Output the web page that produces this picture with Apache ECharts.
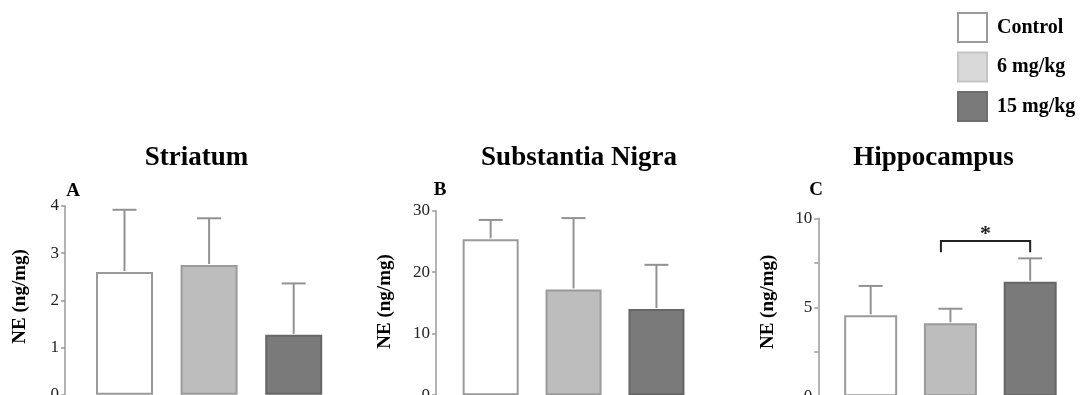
<!DOCTYPE html>
<html>
<head>
<meta charset="utf-8">
<script src="https://cdn.jsdelivr.net/npm/echarts@6/dist/echarts.min.js"></script>
<style>
html,body{margin:0;padding:0;background:#fff;}
#chart{width:1085px;height:395px;}
</style>
</head>
<body>
<div id="chart"></div>
<script>
// ---- data ----
const categories = ['Control', '6 mg/kg', '15 mg/kg'];
const panelTitles = ['Striatum', 'Substantia Nigra', 'Hippocampus'];
const panelLetters = ['A', 'B', 'C'];
const yAxisName = 'NE (ng/mg)';

const striatumMean = [2.60, 2.75, 1.27];
const striatumSD   = [1.32, 0.99, 1.09];
const nigraMean    = [25.35, 17.2, 14.0];
const nigraSD      = [3.15, 11.6, 7.2];
const hippoMean    = [4.55, 4.10, 6.44];
const hippoSD      = [1.65, 0.82, 1.31];

const yMax      = [4, 30, 10];
const yInterval = [1, 10, 2.5];
const yLabelEvery = [1, 10, 5];

// significance bracket in Hippocampus: between group 1 and 2
const sigPair = [1, 2];
const sigTop = 8.72;
const sigLegBottom = 8.09;
const sigMark = '*';

// ---- styles / layout ----
const FONT = '"Liberation Serif", "Times New Roman", serif';
const fills   = ['#ffffff', '#bdbdbd', '#7a7a7a'];
const borders = ['#9a9a9a', '#9a9a9a', '#666666'];
const legendFills   = ['#ffffff', '#d9d9d9', '#7a7a7a'];
const legendBorders = ['#9a9a9a', '#c4c4c4', '#6e6e6e'];

const grids = [
  {left: 82.2, top: 206, width: 253.8, height: 188.8},
  {left: 449.2, top: 210.7, width: 248.7, height: 184.5},
  {left: 830.8, top: 218.3, width: 239.25, height: 178}
];
const yOffsets = [17.2, 13.2, 12.5];
const nameGaps = [35, 41, 41];
const nameShift = [8, 3, 11];
const barWidths = [57, 56, 53];
const titlePos = [[196.5, 158], [579, 158], [933.5, 158]];
const letterPos = [[73, 191], [440, 190], [816, 190]];

const means = [striatumMean, nigraMean, hippoMean];
const sds = [striatumSD, nigraSD, hippoSD];

const chart = echarts.init(document.getElementById('chart'));

const series = [];
means.forEach((m, p) => {
  categories.forEach((c, g) => {
    series.push({
      name: c,
      type: 'bar',
      xAxisIndex: p,
      yAxisIndex: p,
      barWidth: barWidths[p],
      barGap: '-100%',
      data: m.map((v, i) => (i === g ? v : '-')),
      itemStyle: {color: fills[g], borderColor: borders[g], borderWidth: 2},
      emphasis: {disabled: true},
      silent: true,
      z: 2
    });
  });
  series.push({
    type: 'custom',
    xAxisIndex: p,
    yAxisIndex: p,
    silent: true,
    z: 3,
    encode: {x: 0, y: [1, 2]},
    data: m.map((v, i) => [i, v, v + sds[p][i]]),
    renderItem: function (params, api) {
      const x = api.value(0);
      const p0 = api.coord([x, api.value(1)]);
      const p1 = api.coord([x, api.value(2)]);
      const cap = 12;
      const st = {stroke: '#929292', lineWidth: 2};
      return {
        type: 'group',
        children: [
          {type: 'line', shape: {x1: p0[0], y1: p0[1] - 1, x2: p1[0], y2: p1[1]}, style: st},
          {type: 'line', shape: {x1: p1[0] - cap, y1: p1[1], x2: p1[0] + cap, y2: p1[1]}, style: st}
        ]
      };
    }
  });
});

// significance bracket
series.push({
  type: 'custom',
  xAxisIndex: 2,
  yAxisIndex: 2,
  silent: true,
  z: 4,
  encode: {x: [0, 1], y: [2, 3]},
  data: [[sigPair[0], sigPair[1], sigTop, sigLegBottom]],
  renderItem: function (params, api) {
    const inset = 9.5;
    const a = api.coord([api.value(0), api.value(2)]);
    const b = api.coord([api.value(1), api.value(2)]);
    const aB = api.coord([api.value(0), api.value(3)]);
    const x1 = a[0] - inset, x2 = b[0];
    return {
      type: 'group',
      children: [
        {type: 'polyline', shape: {points: [[x1, aB[1]], [x1, a[1]], [x2, a[1]], [x2, aB[1]]]},
         style: {stroke: '#222', lineWidth: 2, fill: null}},
        {type: 'text', style: {text: sigMark, x: (x1 + x2) / 2, y: a[1] - 6.5,
          font: 'bold 22px ' + FONT, fill: '#222', textAlign: 'center', textVerticalAlign: 'middle'}}
      ]
    };
  }
});

const graphics = [];
panelTitles.forEach((t, i) => {
  graphics.push({type: 'text', x: titlePos[i][0], y: titlePos[i][1], silent: true,
    style: {text: t, font: 'bold 27px ' + FONT, fill: '#000', textAlign: 'center', textVerticalAlign: 'middle'}});
  graphics.push({type: 'text', x: letterPos[i][0], y: letterPos[i][1], silent: true,
    style: {text: panelLetters[i], font: 'bold 19px ' + FONT, fill: '#000', textAlign: 'center', textVerticalAlign: 'middle'}});
});

const option = {
  animation: false,
  backgroundColor: '#fff',
  legend: {
    orient: 'vertical',
    left: 952,
    top: 7,
    itemWidth: 29,
    itemHeight: 29,
    itemGap: 8.5,
    icon: 'rect',
    selectedMode: false,
    textStyle: {fontFamily: FONT, fontWeight: 'bold', fontSize: 20, color: '#000', lineHeight: 29, padding: [0, 0, 0, 5]},
    data: categories.map((c, g) => ({
      name: c,
      itemStyle: {color: legendFills[g], borderColor: legendBorders[g], borderWidth: 2}
    }))
  },
  grid: grids.map(g => Object.assign({containLabel: false, outerBoundsMode: 'none'}, g)),
  xAxis: grids.map((g, i) => ({
    type: 'category',
    gridIndex: i,
    data: categories,
    axisLine: {show: true, lineStyle: {color: '#d4d4d4', width: 1}},
    axisTick: {show: false},
    axisLabel: {show: false}
  })),
  yAxis: grids.map((g, i) => ({
    type: 'value',
    gridIndex: i,
    min: 0,
    max: yMax[i],
    interval: yInterval[i],
    offset: yOffsets[i],
    name: yAxisName,
    nameLocation: 'middle',
    nameGap: nameGaps[i],
    nameTextStyle: {fontFamily: FONT, fontWeight: 'bold', fontSize: 19, color: '#000', padding: [0, 0, 0, nameShift[i]]},
    axisLine: {show: true, lineStyle: {color: '#9a9a9a', width: 1.5}},
    axisTick: {show: true, inside: false, length: 4, lineStyle: {color: '#9a9a9a', width: 1.5}},
    splitLine: {show: false},
    axisLabel: {
      fontFamily: FONT, fontSize: 17, color: '#222', margin: 6,
      formatter: v => (Math.abs(v / yLabelEvery[i] - Math.round(v / yLabelEvery[i])) < 1e-9 ? String(v) : '')
    }
  })),
  graphic: graphics,
  series: series
};
chart.setOption(option);
</script>
</body>
</html>
